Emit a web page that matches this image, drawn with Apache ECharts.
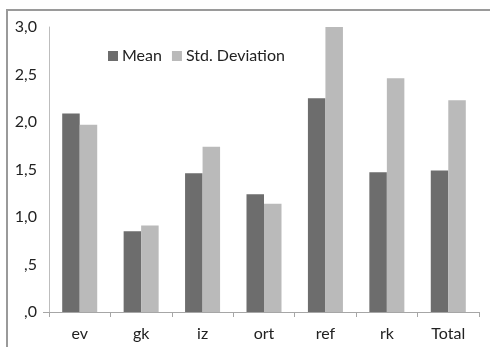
<!DOCTYPE html>
<html>
<head>
<meta charset="utf-8">
<script src="https://cdn.jsdelivr.net/npm/echarts@6/dist/echarts.min.js"></script>
<style>html,body{margin:0;padding:0;background:#fff}#c{width:490px;height:347px}</style>
</head>
<body>
<div id="c"></div>
<script>
var categories = ['ev', 'gk', 'iz', 'ort', 'ref', 'rk', 'Total'];
var meanValues = [2.09, 0.85, 1.46, 1.24, 2.25, 1.47, 1.49];
var stdValues = [1.97, 0.91, 1.74, 1.14, 3.00, 2.46, 2.23];
var yTicks = [0, 0.5, 1.0, 1.5, 2.0, 2.5, 3.0];

var chart = echarts.init(document.getElementById('c'), null, {renderer: 'canvas'});
var font = 'Lato';
chart.setOption({
  animation: false,
  textStyle: {fontFamily: font},
  grid: {left: 49, right: 11, top: 27, bottom: 35, containLabel: false},
  legend: {
    left: 108, top: 48, padding: 0,
    itemWidth: 10, itemHeight: 10, itemGap: 10,
    icon: 'rect',
    textStyle: {fontFamily: font, fontSize: 16, color: '#222', padding: [0, 0, 0, -1]},
    data: ['Mean', 'Std. Deviation']
  },
  xAxis: {
    type: 'category',
    data: categories,
    axisLine: {lineStyle: {color: '#a6a6a6', width: 1}},
    axisTick: {show: true, length: 5, lineStyle: {color: '#a6a6a6'}},
    axisLabel: {fontFamily: font, fontSize: 16, color: '#222', margin: 14}
  },
  yAxis: {
    type: 'value',
    min: 0, max: 3, interval: 0.5,
    axisLine: {show: true, lineStyle: {color: '#bdbdbd'}},
    axisTick: {show: true, length: 6, lineStyle: {color: '#a6a6a6'}, customValues: [0]},
    splitLine: {lineStyle: {color: '#a0a0a0', width: 1}},
    axisLabel: {
      fontFamily: font, fontSize: 16, color: '#222', margin: 12,
      customValues: yTicks,
      formatter: function (v) {
        var s = v.toFixed(1).replace('.', ',');
        if (s.charAt(0) === '0') s = s.substring(1);
        return s;
      }
    }
  },
  graphic: [
    {type: 'line', shape: {x1: 7, y1: 10, x2: 7, y2: 347}, style: {stroke: '#9a9a9a', lineWidth: 2}},
    {type: 'line', shape: {x1: 6, y1: 10, x2: 490, y2: 10}, style: {stroke: '#9a9a9a', lineWidth: 2}}
  ],
  series: [
    {name: 'Mean', type: 'bar', data: meanValues, barGap: '0%', barCategoryGap: '43%',
     itemStyle: {color: '#6d6d6d'}},
    {name: 'Std. Deviation', type: 'bar', data: stdValues, barGap: '0%', barCategoryGap: '43%',
     itemStyle: {color: '#bababa'}}
  ]
});
</script>
</body>
</html>
